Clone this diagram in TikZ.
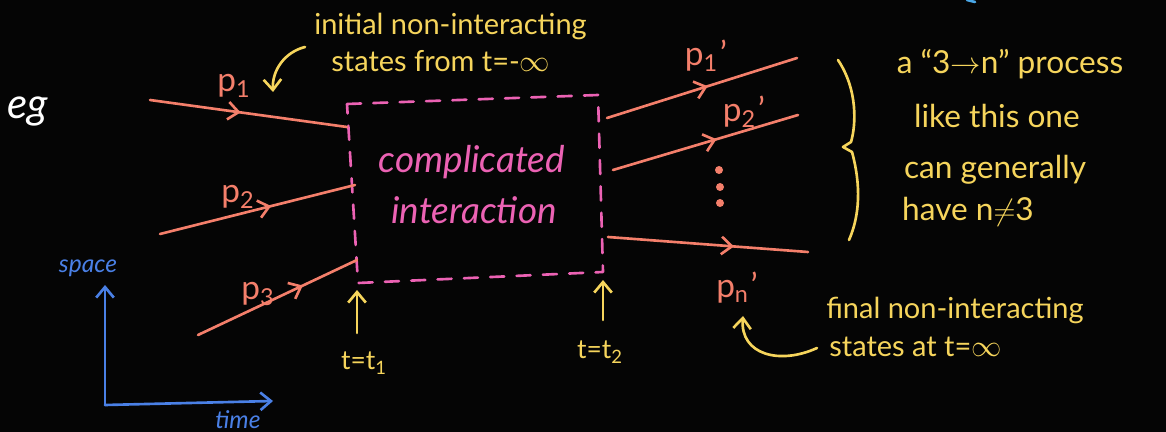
\documentclass[tikz,border=0pt]{standalone}
\usepackage{fontspec}
\setmainfont{Lato}
\usetikzlibrary{arrows.meta,decorations.markings}
\definecolor{bg}{HTML}{050505}
\definecolor{salmon}{HTML}{F47F6B}
\definecolor{pinkc}{HTML}{EC62B4}
\definecolor{yel}{HTML}{F6D55C}
\definecolor{bluec}{HTML}{4A80E6}
\definecolor{cyanc}{HTML}{4AA8E8}
\newcommand{\pp}[1]{p\textsubscript{#1}\kern1pt'}
\begin{document}
\begin{tikzpicture}[x=0.02cm,y=-0.02cm,line width=1.5pt,line cap=round,line join=round,
  barb/.tip={Straight Barb[length=6pt,width=10pt,line width=1.5pt]},
  particle/.style={draw=salmon,postaction={decorate},
    decoration={markings,mark=at position #1 with {\arrow{barb}}}},
  plabel/.style={text=salmon,font=\fontsize{19}{22}\selectfont,inner sep=0pt},
  ynote/.style={text=yel,font=\fontsize{16.5}{19}\selectfont,inner sep=0pt,anchor=base west},
  bnote/.style={text=yel,font=\fontsize{18}{21}\selectfont,inner sep=0pt},
  pnote/.style={text=pinkc,font=\fontsize{21}{24}\itshape\selectfont,inner sep=0pt},
  tnote/.style={text=yel,font=\fontsize{15}{18}\selectfont,inner sep=0pt},
  axnote/.style={text=bluec,font=\fontsize{14}{17}\itshape\selectfont,inner sep=0pt},
  yarrow/.style={draw=yel,-{barb}},
  axis/.style={draw=bluec,-{barb}}]
\fill[bg] (0,0) rectangle (1166,432);
\useasboundingbox (0,0) rectangle (1166,432);

% eg
\node[text=white,font=\fontsize{24}{28}\itshape\selectfont,inner sep=0pt] (eg) at (28,112) {eg};

% interaction box
\coordinate (tl) at (347,104);
\coordinate (tr) at (598,95);
\coordinate (br) at (603,272);
\coordinate (bl) at (358,283);
\draw[pinkc,dash pattern=on 8pt off 7pt] (tl) -- (tr) -- (br) -- (bl) -- cycle;
\node[pnote] (comp) at (472,162) {complicated};
\node[pnote] (inter) at (474,210) {interaction};

% incoming particles
\coordinate (a1) at (150,100); \coordinate (b1) at (347,127);
\coordinate (a2) at (160,234); \coordinate (b2) at (355,185);
\coordinate (a3) at (198,335); \coordinate (b3) at (357,260);
\draw[particle=0.46] (a1) -- (b1);
\draw[particle=0.57] (a2) -- (b2);
\draw[particle=0.66] (a3) -- (b3);
\node[plabel] (p1) at (234,86) {p\textsubscript{1}};
\node[plabel] (p2) at (238,197) {p\textsubscript{2}};
\node[plabel] (p3) at (258,294) {p\textsubscript{3}};

% outgoing particles
\coordinate (c1) at (607,118); \coordinate (d1) at (797,58);
\coordinate (c2) at (613,170); \coordinate (d2) at (798,115);
\coordinate (cn) at (608,237); \coordinate (dn) at (808,252);
\draw[particle=0.53] (c1) -- (d1);
\draw[particle=0.56] (c2) -- (d2);
\draw[particle=0.63] (cn) -- (dn);
\node[plabel] (q1) at (706,56) {\pp{1}};
\node[plabel] (q2) at (744,112) {\pp{2}};
\node[plabel] (qn) at (737,288) {\pp{n}};
\fill[salmon] (719,170) circle (4) (720,187) circle (4) (720,203) circle (4);

% time markers
\coordinate (t1a) at (357,333); \coordinate (t1b) at (357,290);
\coordinate (t2a) at (603,320); \coordinate (t2b) at (603,280);
\draw[yarrow] (t1a) -- (t1b);
\draw[yarrow] (t2a) -- (t2b);
\node[tnote] (lt1) at (364,363) {t=t\textsubscript{1}};
\node[tnote] (lt2) at (600,352) {t=t\textsubscript{2}};

% initial note
\node[ynote] (ini1) at (313,35) {initial non-interacting};
\node[ynote] (ini2) at (330,72) {states from t=-$\infty$};
\coordinate (ia) at (305,47); \coordinate (ib) at (273,92);
\draw[yarrow] (ia) .. controls (285,52) and (272,70) .. (ib);

% brace and note
\coordinate (br1) at (838,60); \coordinate (brk) at (843,147); \coordinate (br2) at (849,240);
\draw[yel] (br1) .. controls (858,90) and (856,125) .. (851,142) -- (brk) -- (852,152)
  .. controls (861,185) and (860,215) .. (br2);
\node[bnote] (n1) at (1010,64) {a ``3$\to$n'' process};
\node[bnote] (n2) at (997,116) {like this one};
\node[bnote] (n3) at (995,170) {can generally};
\node[bnote] (n4) at (968,212) {have n$\neq$3};

% final note
\node[ynote] (fin1) at (825,318) {final non-interacting};
\node[ynote] (fin2) at (828,356) {states at t=$\infty$};
\coordinate (fa) at (817,348); \coordinate (fb) at (743,316);
\draw[yarrow] (fa) .. controls (780,365) and (740,355) .. (fb);

% axes
\coordinate (o) at (105,405); \coordinate (yt) at (105,285); \coordinate (xt) at (273,401);
\draw[axis] (o) -- (yt);
\draw[axis] (o) -- (xt);
\node[axnote] (sp) at (88,268) {space};
\node[axnote] (tm) at (238,420) {time};

% stray blue stroke at top edge
\coordinate (s1) at (967,0); \coordinate (s2) at (975,2);
\draw[cyanc] (s1) -- (s2);
\end{tikzpicture}
\end{document}
